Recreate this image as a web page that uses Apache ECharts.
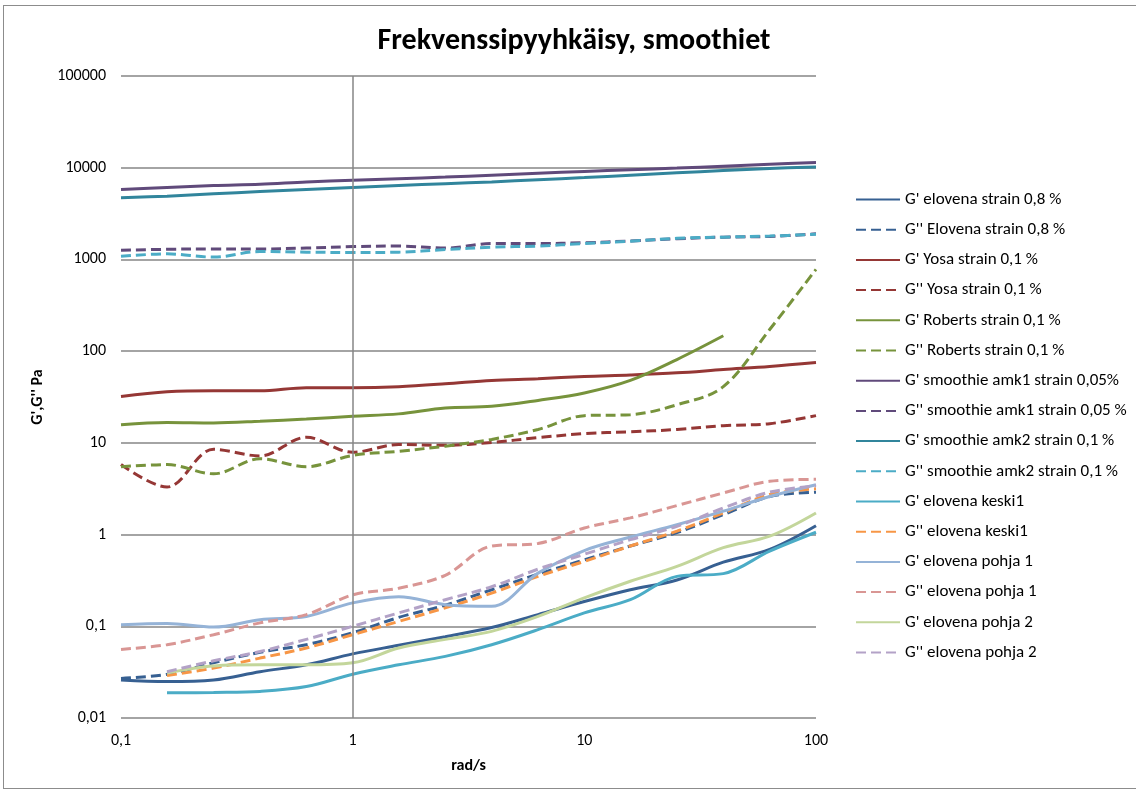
<!DOCTYPE html>
<html>
<head>
<meta charset="utf-8">
<script src="https://cdn.jsdelivr.net/npm/echarts@6/dist/echarts.min.js"></script>
<style>
  html, body { margin: 0; padding: 0; background: #fff; }
  #chart { width: 1136px; height: 791px; }
  .frame { position: absolute; left: 3px; top: 5px; width: 1200px; height: 782px;
           border: 1px solid #8c8c8c; pointer-events: none; }
</style>
</head>
<body>
<div id="chart"></div>
<div class="frame"></div>
<script>
// frequency points, rad/s
const freq = [0.1, 0.158, 0.251, 0.398, 0.631, 1, 1.58, 2.51, 3.98, 6.31, 10, 15.8, 25.1, 39.8, 63.1, 100];

// G', G'' (Pa)
const gElovena = [0.026, 0.025, 0.026, 0.032, 0.038, 0.050, 0.062, 0.077, 0.097, 0.134, 0.186, 0.25, 0.32, 0.50, 0.69, 1.25];
const g2Elovena = [0.027, 0.030, 0.040, 0.052, 0.063, 0.085, 0.125, 0.17, 0.25, 0.37, 0.53, 0.75, 1.05, 1.65, 2.6, 2.9];
const gYosa = [32, 36, 37, 37, 40, 40, 41, 44, 48, 50, 53, 55, 58, 63, 68, 75];
const g2Yosa = [5.8, 3.3, 8.5, 7.2, 11.5, 7.9, 9.6, 9.4, 10.1, 11.4, 12.6, 13.2, 14, 15.4, 16.2, 19.8];
const gRoberts = [15.8, 16.7, 16.5, 17.2, 18.2, 19.5, 20.7, 24, 25, 29, 35, 48, 81, 147, null, null];
const g2Roberts = [5.5, 5.8, 4.6, 6.7, 5.5, 7.3, 8.1, 9.2, 10.9, 14, 19.8, 20.3, 26, 41, 172, 780];
const gAmk1 = [5800, 6100, 6400, 6600, 7000, 7300, 7600, 7900, 8300, 8700, 9100, 9500, 9900, 10400, 10900, 11400];
const g2Amk1 = [1260, 1290, 1300, 1300, 1330, 1380, 1400, 1330, 1490, 1490, 1520, 1590, 1680, 1750, 1780, 1900];
const gAmk2 = [4700, 4900, 5200, 5500, 5800, 6100, 6400, 6700, 7000, 7400, 7800, 8300, 8800, 9300, 9800, 10200];
const g2Amk2 = [1080, 1150, 1060, 1220, 1200, 1190, 1200, 1280, 1360, 1400, 1490, 1580, 1700, 1750, 1800, 1880];
const gKeski1 = [null, 0.0188, 0.019, 0.0195, 0.022, 0.030, 0.038, 0.047, 0.063, 0.092, 0.14, 0.195, 0.35, 0.375, 0.66, 1.06];
const g2Keski1 = [null, 0.029, 0.035, 0.045, 0.058, 0.081, 0.113, 0.159, 0.23, 0.35, 0.51, 0.75, 1.09, 1.72, 2.73, 3.15];
const gPohja1 = [0.104, 0.107, 0.098, 0.118, 0.128, 0.18, 0.21, 0.172, 0.165, 0.38, 0.67, 0.94, 1.28, 1.8, 2.6, 3.5];
const g2Pohja1 = [0.056, 0.063, 0.081, 0.109, 0.134, 0.22, 0.26, 0.36, 0.75, 0.8, 1.18, 1.52, 2.07, 2.84, 3.81, 4.0];
const gPohja2 = [null, 0.031, 0.037, 0.038, 0.038, 0.040, 0.058, 0.072, 0.088, 0.128, 0.204, 0.31, 0.45, 0.72, 0.96, 1.72];
const g2Pohja2 = [null, 0.032, 0.042, 0.053, 0.072, 0.100, 0.14, 0.195, 0.27, 0.42, 0.61, 0.88, 1.23, 1.95, 2.9, 3.4];

const xTicks = ["0,1", "1", "10", "100"];
const yTicks = ["0,01", "0,1", "1", "10", "100", "1000", "10000", "100000"];

const font = "Carlito, 'Liberation Sans Narrow', 'Open Sans', sans-serif";

function pairs(vals) {
  const out = [];
  vals.forEach((v, i) => {
    if (v != null) out.push([freq[i], v]);
  });
  return out;
}

function line(name, vals, color, dashed) {
  return {
    name: name,
    type: "line",
    data: pairs(vals),
    smooth: 0.35,
    symbol: "none",
    lineStyle: {
      color: color,
      width: 3,
      type: dashed ? [10, 5] : "solid",
    },
    itemStyle: { color: color },
  };
}

const series = [
  line("G' elovena strain 0,8 %", gElovena, "#376092", false),
  line("G'' Elovena strain 0,8 %", g2Elovena, "#376092", true),
  line("G' Yosa strain 0,1 %", gYosa, "#953735", false),
  line("G'' Yosa strain 0,1 %", g2Yosa, "#953735", true),
  line("G' Roberts strain 0,1 %", gRoberts, "#77933C", false),
  line("G'' Roberts strain 0,1 %", g2Roberts, "#77933C", true),
  line("G' smoothie amk1 strain 0,05%", gAmk1, "#604A7B", false),
  line("G'' smoothie amk1 strain 0,05 %", g2Amk1, "#604A7B", true),
  line("G' smoothie amk2 strain 0,1 %", gAmk2, "#31859C", false),
  line("G'' smoothie amk2 strain 0,1 %", g2Amk2, "#4BACC6", true),
  line("G' elovena keski1", gKeski1, "#4BACC6", false),
  line("G'' elovena keski1", g2Keski1, "#F79646", true),
  line("G' elovena pohja 1", gPohja1, "#95B3D7", false),
  line("G'' elovena pohja 1", g2Pohja1, "#D99694", true),
  line("G' elovena pohja 2", gPohja2, "#C3D69B", false),
  line("G'' elovena pohja 2", g2Pohja2, "#B3A2C7", true),
];

// vertical axis crosses at x = 1
series[0].markLine = {
  silent: true,
  symbol: "none",
  label: { show: false },
  lineStyle: { color: "#868686", width: 1.5, type: "solid" },
  data: [{ xAxis: 1 }],
};

function tickText(value, labels) {
  const exps = labels.map((t) => Math.round(Math.log10(parseFloat(t.replace(",", ".")))));
  const i = exps.indexOf(Math.round(Math.log10(value)));
  return i >= 0 ? labels[i] : "";
}

const chart = echarts.init(document.getElementById("chart"));
const option = {
  animation: false,
  title: {
    text: "Frekvenssipyyhkäisy, smoothiet",
    left: 569,
    top: 21,
    textAlign: "center",
    textStyle: { fontFamily: font, fontSize: 30, fontWeight: "bold", color: "#000" },
  },
  grid: { left: 121, right: 320, top: 76, bottom: 73 },
  legend: {
    orient: "vertical",
    left: 850,
    top: 186,
    itemWidth: 44,
    itemHeight: 18,
    itemGap: 13.2,
    itemStyle: { opacity: 0 },
    textStyle: { fontFamily: font, fontSize: 17, color: "#000" },
  },
  xAxis: {
    type: "log",
    logBase: 10,
    min: 0.1,
    max: 100,
    splitNumber: 3,
    name: "rad/s",
    nameLocation: "middle",
    nameGap: 40,
    nameTextStyle: { fontFamily: font, fontSize: 16, fontWeight: "bold", color: "#000" },
    axisLine: { show: false },
    axisTick: { show: false },
    splitLine: { show: false },
    axisLabel: {
      margin: 15,
      fontFamily: font,
      fontSize: 16,
      color: "#000",
      formatter: (v) => tickText(v, xTicks),
    },
  },
  yAxis: {
    type: "log",
    logBase: 10,
    min: 0.01,
    max: 100000,
    splitNumber: 7,
    name: "G',G'' Pa",
    nameLocation: "middle",
    nameGap: 67,
    nameRotate: 90,
    nameTextStyle: { fontFamily: font, fontSize: 16, fontWeight: "bold", color: "#000" },
    axisLine: { show: false },
    axisTick: { show: false },
    splitLine: { lineStyle: { color: "#868686", width: 1.5 } },
    axisLabel: {
      margin: 15,
      fontFamily: font,
      fontSize: 16,
      color: "#000",
      formatter: (v) => tickText(v, yTicks),
    },
  },
  series: series,
};
chart.setOption(option);
</script>
</body>
</html>
